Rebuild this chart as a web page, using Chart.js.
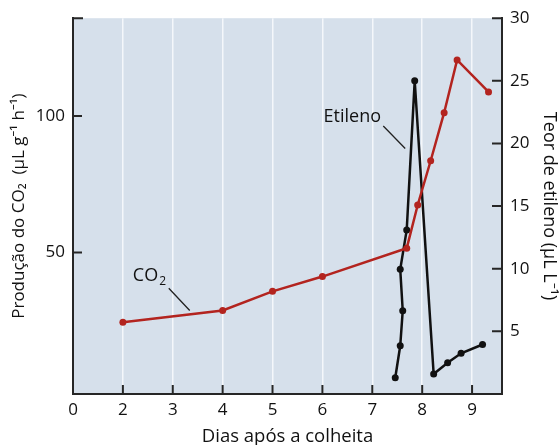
<!DOCTYPE html>
<html>
<head>
<meta charset="utf-8">
<script src="https://cdn.jsdelivr.net/npm/chart.js@4.4.0/dist/chart.umd.min.js"></script>
<style>
  body { margin: 0; background: #fff; }
  #wrap { width: 559px; height: 445px; }
</style>
</head>
<body>
<div id="wrap"><canvas id="chart" width="559" height="445"></canvas></div>
<script>
// x positions (days) - the axis starts at a "0" placed where day 1 would be
const xTickValues = [1, 2, 3, 4, 5, 6, 7, 8, 9];
const xTickLabels = ['0', '2', '3', '4', '5', '6', '7', '8', '9'];
const co2TickValues = [50, 100];
const etTickValues = [5, 10, 15, 20, 25, 30];

// CO2 production (left axis)
const co2Days = [2, 4, 5, 6, 7.69, 7.91, 8.17, 8.44, 8.7, 9.33];
const co2Values = [24.5, 28.8, 35.8, 41.2, 51.6, 67.4, 83.6, 101.2, 120.5, 108.8];

// Ethylene content (right axis)
const etDays = [7.46, 7.56, 7.61, 7.56, 7.69, 7.85, 8.23, 8.51, 8.78, 9.21];
const etValues = [1.3, 3.85, 6.65, 9.95, 13.1, 25.0, 1.6, 2.5, 3.25, 3.95];

// labels placed in data coordinates
const labelText = ['Etileno', 'CO'];
const labelX = [6.6, 2.2];
const labelY = [22.1, 41.6];
const leaderX = [[7.22, 7.66], [2.92, 3.34]];
const leaderY = [[21.4, 19.6], [36.9, 28.8]];

const FONT = "'Open Sans', 'Noto Sans', sans-serif";
const AXIS = '#262626';
const TEXT = '#111111';
const RED = '#b3241f';
const BLACK = '#111111';

const toXY = (xs, ys) => xs.map((x, i) => ({ x, y: ys[i] }));

const plotDecor = {
  id: 'plotDecor',
  beforeDraw(chart) {
    const { ctx, chartArea: a } = chart;
    ctx.save();
    ctx.fillStyle = '#d6e0eb';
    ctx.fillRect(a.left, a.top, a.right - a.left, a.bottom - a.top);
    ctx.restore();
  },
  afterDraw(chart) {
    const { ctx, chartArea: a, scales } = chart;
    ctx.save();
    ctx.strokeStyle = AXIS;
    ctx.lineWidth = 2;
    ctx.beginPath();
    // inward ticks
    xTickValues.slice(1).forEach(v => {
      const px = scales.x.getPixelForValue(v);
      ctx.moveTo(px, a.bottom); ctx.lineTo(px, a.bottom - 9);
    });
    co2TickValues.forEach(v => {
      const py = scales.yL.getPixelForValue(v);
      ctx.moveTo(a.left, py); ctx.lineTo(a.left + 9, py);
    });
    etTickValues.forEach(v => {
      const py = scales.yR.getPixelForValue(v);
      ctx.moveTo(a.right, py); ctx.lineTo(a.right - 10, py);
    });
    // top-left corner mark
    ctx.moveTo(a.left - 1, a.top); ctx.lineTo(a.left + 10, a.top);
    ctx.stroke();

    // leader lines
    ctx.strokeStyle = '#222';
    ctx.lineWidth = 1.3;
    ctx.beginPath();
    const yScales = [scales.yR, scales.yL];
    leaderX.forEach((xs, i) => {
      ctx.moveTo(scales.x.getPixelForValue(xs[0]), yScales[i].getPixelForValue(leaderY[i][0]));
      ctx.lineTo(scales.x.getPixelForValue(xs[1]), yScales[i].getPixelForValue(leaderY[i][1]));
    });
    ctx.stroke();

    // labels
    ctx.fillStyle = TEXT;
    ctx.textBaseline = 'middle';
    ctx.font = '18px ' + FONT;
    ctx.textAlign = 'center';
    ctx.fillText(labelText[0], scales.x.getPixelForValue(labelX[0]), scales.yR.getPixelForValue(labelY[0]));
    ctx.textAlign = 'left';
    const cx = scales.x.getPixelForValue(labelX[1]);
    const cy = scales.yL.getPixelForValue(labelY[1]);
    ctx.fillText(labelText[1], cx, cy);
    const w = ctx.measureText(labelText[1]).width;
    ctx.font = '12px ' + FONT;
    ctx.fillText('2', cx + w + 1, cy + 6);
    ctx.restore();
  }
};

new Chart(document.getElementById('chart'), {
  type: 'line',
  data: {
    datasets: [
      {
        label: 'CO2',
        data: toXY(co2Days, co2Values),
        yAxisID: 'yL',
        borderColor: RED,
        backgroundColor: RED,
        borderWidth: 2.5,
        pointRadius: 3.5,
        pointBorderWidth: 0,
        tension: 0
      },
      {
        label: 'Etileno',
        data: toXY(etDays, etValues),
        yAxisID: 'yR',
        borderColor: BLACK,
        backgroundColor: BLACK,
        borderWidth: 2.5,
        pointRadius: 3.5,
        pointBorderWidth: 0,
        tension: 0
      }
    ]
  },
  options: {
    responsive: false,
    animation: false,
    layout: { padding: { top: 17, left: 0, right: 0, bottom: 0 } },
    plugins: { legend: { display: false }, tooltip: { enabled: false } },
    scales: {
      x: {
        type: 'linear',
        position: 'bottom',
        min: 1,
        max: 9.6,
        afterBuildTicks: s => { s.ticks = xTickValues.map(v => ({ value: v })); },
        afterFit: s => { s.height = 51; },
        ticks: {
          autoSkip: false,
          maxRotation: 0,
          padding: 6,
          color: TEXT,
          font: { family: FONT, size: 17 },
          callback: v => xTickLabels[xTickValues.indexOf(v)]
        },
        grid: { color: '#f4f7fb', lineWidth: 1.5, drawTicks: false },
        border: { color: AXIS, width: 2 },
        title: {
          display: true,
          text: 'Dias após a colheita',
          color: TEXT,
          font: { family: FONT, size: 18.5, lineHeight: 1 },
          padding: { top: 0, bottom: -1 }
        }
      },
      yL: {
        type: 'linear',
        position: 'left',
        min: -1.8,
        max: 135.8,
        afterBuildTicks: s => { s.ticks = co2TickValues.map(v => ({ value: v })); },
        afterFit: s => { s.width = 73; },
        ticks: { padding: 8, color: TEXT, font: { family: FONT, size: 17 } },
        grid: { drawOnChartArea: false, drawTicks: false },
        border: { color: AXIS, width: 2 },
        title: {
          display: true,
          text: 'Produção do CO₂  (µL g⁻¹ h⁻¹)',
          color: TEXT,
          font: { family: FONT, size: 17, lineHeight: 1 },
          padding: { top: 11, bottom: 0 }
        }
      },
      yR: {
        type: 'linear',
        position: 'right',
        min: 0,
        max: 30,
        afterBuildTicks: s => { s.ticks = etTickValues.map(v => ({ value: v })); },
        afterFit: s => { s.width = 57; },
        ticks: { padding: 8, color: TEXT, font: { family: FONT, size: 17 } },
        grid: { drawOnChartArea: false, drawTicks: false },
        border: { color: AXIS, width: 2 },
        title: {
          display: true,
          text: 'Teor de etileno (µL L⁻¹)',
          color: TEXT,
          font: { family: FONT, size: 18, lineHeight: 1 },
          padding: { top: 1, bottom: 0 }
        }
      }
    }
  },
  plugins: [plotDecor]
});
</script>
</body>
</html>
